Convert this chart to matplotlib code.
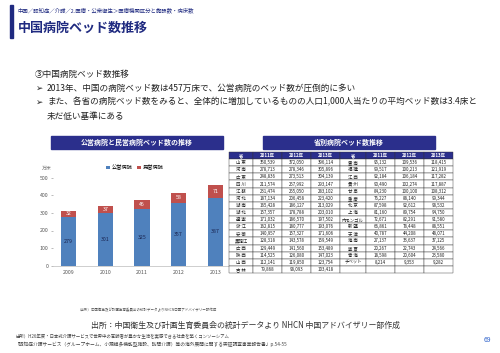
import matplotlib.pyplot as plt
from matplotlib.patches import Rectangle

plt.rcParams['font.family'] = ['Noto Sans CJK JP', 'DejaVu Sans']

# 公営・民営病院ベッド数（万床）
years = ['2009', '2010', '2011', '2012', '2013']
public_beds = [279, 301, 325, 357, 387]
private_beds = [32, 37, 46, 58, 71]
y_ticks = [0, 100, 200, 300, 400, 500]

# 省別病院ベッド数
table_head = ['省', '2011年', '2012年', '2013年']
left_prov = ['山 東', '河 南', '広 東', '四 川', '江 蘇', '河 北', '湖 南', '湖 北',
             '遼 寧', '浙 江', '安 徽', '黒龍江', '広 西', '陝 西', '山 西', '吉 林']
left_2011 = ['350,539', '278,713', '248,836', '211,574', '231,474', '187,134', '165,428', '157,357',
             '171,032', '162,815', '140,957', '128,318', '129,449', '114,525', '112,141', '79,868']
left_2012 = ['372,050', '278,346', '273,513', '257,992', '255,050', '206,458', '186,127', '178,788',
             '186,570', '180,777', '157,327', '143,578', '141,560', '126,080', '119,850', '98,093']
left_2013 = ['396,114', '305,896', '304,139', '293,147', '283,102', '223,420', '213,029', '203,010',
             '197,502', '193,076', '171,606', '159,549', '153,489', '147,023', '123,754', '103,418']
right_prov = ['雲 南', '福 建', '江 西', '貴 州', '甘 粛', '重 慶', '北 京', '上 海',
              '内モンゴル', '新 疆', '天 津', '海 南', '寧 夏', '青 海', 'チベット', '']
right_2011 = ['95,132', '99,517', '92,184', '90,490', '84,230', '76,227', '87,598', '81,160',
              '72,671', '66,861', '40,787', '27,137', '20,267', '18,598', '8,214', '']
right_2012 = ['109,536', '100,213', '106,184', '102,274', '100,100', '88,140', '92,612', '89,754',
              '82,291', '78,448', '44,208', '33,637', '22,743', '20,604', '9,353', '']
right_2013 = ['118,415', '121,919', '117,282', '117,887', '108,312', '99,344', '98,532', '94,750',
              '91,580', '88,551', '48,071', '37,125', '24,566', '23,580', '9,282', '']

NAVY = '#2b2f8c'
BLUE = '#4f81bd'
RED = '#c0504d'

W, H = 500, 353
fig = plt.figure(figsize=(W / 100, H / 100), dpi=100)


def fx(x):
    return x / W


def fy(y):
    return 1 - y / H


# ヘッダー
fig.patches.append(Rectangle((fx(10), fy(38)), fx(3), 33 / H, color='#1f2a80',
                             transform=fig.transFigure))
fig.text(fx(18), fy(10.7), '中国／認知症／介護／2.医療・公衆衛生＞医療機関区分と施設数・病床数',
         fontsize=3.9, color='#1f2a80', va='center')
fig.text(fx(18), fy(27.3), '中国病院ベッド数推移', fontsize=9.4, color='#1f2a80',
         fontweight='bold', va='center')

# 本文
body_fs = 6.2
fig.text(fx(35), fy(74), '③中国病院ベッド数推移', fontsize=body_fs, color='#222222', va='center')
fig.text(fx(35), fy(88), '➢', fontsize=body_fs, color='#222222', va='center')
fig.text(fx(47), fy(88), '2013年、中国の病院ベッド数は457万床で、公営病院のベッド数が圧倒的に多い',
         fontsize=body_fs, color='#222222', va='center')
fig.text(fx(35), fy(102), '➢', fontsize=body_fs, color='#222222', va='center')
fig.text(fx(47), fy(102), 'また、各省の病院ベッド数をみると、全体的に増加しているものの人口1,000人当たりの平均ベッド数は3.4床と',
         fontsize=body_fs, color='#222222', va='center')
fig.text(fx(47), fy(116), '未だ低い基準にある', fontsize=body_fs, color='#222222', va='center')

# 見出しボックス
for x0, x1, label in [(51, 223, '公営病院と民営病院ベッド数の推移'), (263, 435, '省別病院ベッド数推移')]:
    fig.patches.append(Rectangle((fx(x0), fy(149)), (x1 - x0) / W, 13 / H, color=NAVY,
                                 transform=fig.transFigure))
    fig.text(fx((x0 + x1) / 2), fy(142.5), label, fontsize=5, color='white',
             fontweight='bold', ha='center', va='center')

# 積み上げ棒グラフ
ax = fig.add_axes([fx(53), fy(265.7), 178 / W, 88 / H])
b1 = ax.bar(years, public_beds, width=0.41, color=BLUE, label='公営病院')
b2 = ax.bar(years, private_beds, width=0.41, bottom=public_beds, color=RED, label='民営病院')
ax.bar_label(b1, label_type='center', fontsize=3.8, color='#1a2450')
ax.bar_label(b2, label_type='center', fontsize=3.8, color='white')
ax.set_ylim(0, 500)
ax.set_yticks(y_ticks)
ax.tick_params(axis='y', labelsize=3.8, labelcolor='#555555', length=1.5, width=0.4,
               color='#888888', pad=2)
ax.tick_params(axis='x', labelsize=3.8, labelcolor='#555555', length=0, pad=3)
for s in ['top', 'right', 'left']:
    ax.spines[s].set_visible(False)
ax.spines['bottom'].set_color('#bbbbbb')
ax.spines['bottom'].set_linewidth(0.5)
ax.patch.set_alpha(0)
ax.legend(loc='center', bbox_to_anchor=(0.46, 1.115), ncol=2, fontsize=3.8, frameon=False,
          handlelength=0.7, handleheight=0.7, handletextpad=0.3, columnspacing=0.8)
fig.text(fx(52), fy(168), '万床', fontsize=3.5, color='#777777', ha='right', va='center')

# 表
rows = []
for i in range(len(left_prov)):
    rows.append([left_prov[i], left_2011[i], left_2012[i], left_2013[i],
                 right_prov[i], right_2011[i], right_2012[i], right_2013[i]])
tax = fig.add_axes([fx(229), fy(273), 224 / W, 121 / H])
tax.axis('off')
widths = [24, 29, 29, 29, 26, 29, 29, 29]
tbl = tax.table(cellText=rows, colLabels=table_head + table_head, cellLoc='center',
                colWidths=[w / sum(widths) for w in widths], bbox=[0, 0, 1, 1])
tbl.auto_set_font_size(False)
tbl.set_fontsize(3.2)
for (r, c), cell in tbl.get_celld().items():
    cell.set_linewidth(0.3)
    cell.set_edgecolor('#333333')
    cell.PAD = 0.02
    if r == 0:
        cell.set_facecolor(NAVY)
        cell.get_text().set_color('white')
        cell.get_text().set_fontweight('bold')
    else:
        cell.get_text().set_color('#222222')

# 出所
fig.text(fx(78), fy(310), '（出所）中国衛生及び計画生育委員会の統計データよりNHCN中国アドバイザリー部作成',
         fontsize=2.5, color='#555555', va='center')
fig.text(fx(91), fy(325), '出所：中国衛生及び計画生育委員会の統計データより NHCN 中国アドバイザリー部作成',
         fontsize=5.7, color='#333333', va='center')
fig.text(fx(15), fy(336.7), '出所）H26年度・日本式介護サービスで世界中の高齢者が豊かな生活を実感できる社会を築くコンソーシアム',
         fontsize=3.2, color='#444444', va='center')
fig.text(fx(15), fy(344.5), '「認知症介護サービス（グループホーム、小規模多機能型施設、訪問介護）等の海外展開に関する実証調査事業報告書」p.54-55',
         fontsize=3.4, color='#444444', va='center')
fig.text(fx(487), fy(340), '69', fontsize=5, color='#3366cc', ha='center', va='center')

fig.savefig('out.png', dpi=100)
